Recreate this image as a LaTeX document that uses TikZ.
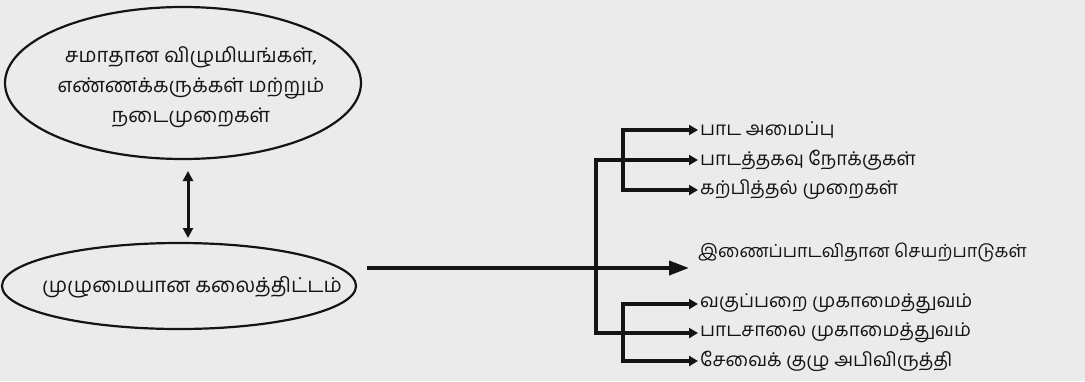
\documentclass[tikz,border=0pt]{standalone}
\usepackage{fontspec}
\newfontfamily\tamil[Script=Tamil]{Hind Madurai}
\usetikzlibrary{shapes.geometric,arrows.meta,calc}
\definecolor{bg}{HTML}{EBEBEB}
\definecolor{ink}{HTML}{141414}
\begin{document}
\begin{tikzpicture}[x=1pt,y=-1pt,
  ell/.style={draw=ink, line width=2.2pt, ellipse, inner sep=0pt},
  etext/.style={font=\tamil\fontsize{20.2}{30}\selectfont, align=center, text=ink, inner sep=0pt},
  lab/.style={font=\tamil\fontsize{19}{22}\selectfont, anchor=west, inner sep=2pt, text=ink},
  wire/.style={draw=ink, line width=3.8pt, line join=miter},
  arr/.style={wire, -{Triangle[length=9pt,width=10pt]}},
  bigarr/.style={wire, -{Triangle[length=20pt,width=14pt]}},
  dbl/.style={draw=ink, line width=3pt, {Triangle[length=10pt,width=10pt]}-{Triangle[length=10pt,width=10pt]}},
]
\fill[bg] (0,0) rectangle (1085,381);
\useasboundingbox (0,0) rectangle (1085,381);
% ellipses
\node[ell, minimum width=356pt, minimum height=152pt] (E1) at (183,83) {};
\node[etext] (T1) at ($(E1.center)+(8,4)$) {சமாதான விழுமியங்கள்,\\ எண்ணக்கருக்கள் மற்றும்\\ நடைமுறைகள்};
\node[ell, minimum width=354pt, minimum height=86pt] (E2) at (179,286) {};
\node[etext, font=\tamil\fontsize{20.5}{30}\selectfont] (T2) at ($(E2.center)+(13,1)$) {முழுமையான கலைத்திட்டம்};
% labels
\node[lab] (L1) at (698,130) {பாட அமைப்பு};
\node[lab] (L2) at (698,160) {பாடத்தகவு நோக்குகள்};
\node[lab] (L3) at (698,190) {கற்பித்தல் முறைகள்};
\node[lab, font=\tamil\fontsize{18}{22}\selectfont] (LM) at (696,252) {இணைப்பாடவிதான செயற்பாடுகள்};
\node[lab] (L4) at (698,304) {வகுப்பறை முகாமைத்துவம்};
\node[lab] (L5) at (698,333) {பாடசாலை முகாமைத்துவம்};
\node[lab] (L6) at (698,361) {சேவைக் குழு அபிவிருத்தி};
% coordinates
\coordinate (A1) at (188,171);
\coordinate (A2) at (188,238);
\coordinate (H0) at (367,268);
\coordinate (Tip) at (689,268);
\coordinate (VT) at (596,160);
\coordinate (VB) at (596,333);
\coordinate (IT1) at (623,130);
\coordinate (IB1) at (623,190);
\coordinate (IT2) at (623,304);
\coordinate (IB2) at (623,361);
% connectors
\draw[dbl] (A1) -- (A2);
\draw[bigarr] (H0) -- (Tip);
\draw[arr] (VB) |- (L2.west);
\draw[arr] (VT) |- (L5.west);
\draw[arr] (IB1) |- (L1.west);
\draw[arr] (IT1) |- (L3.west);
\draw[arr] (IB2) |- (L4.west);
\draw[arr] (IT2) |- (L6.west);
\end{tikzpicture}
\end{document}
